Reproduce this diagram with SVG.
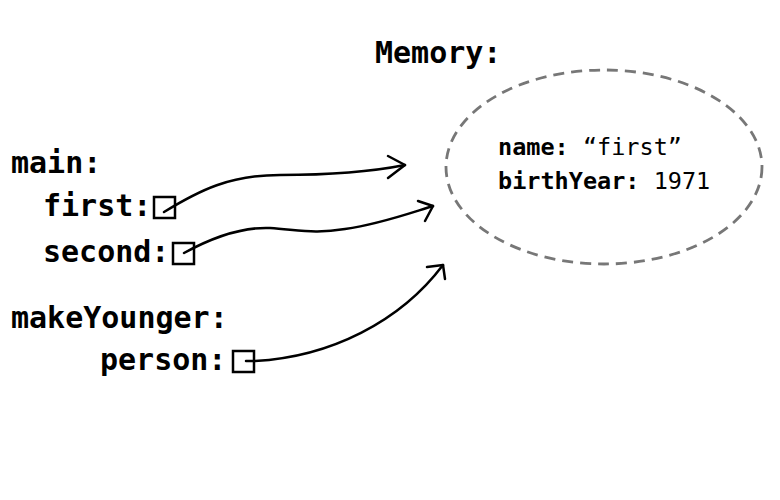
<svg xmlns="http://www.w3.org/2000/svg" width="780" height="500" viewBox="0 0 780 500">
<style>
.lbl{font-family:"DejaVu Sans Mono",monospace;font-weight:bold;font-size:30px;fill:#000}
.in{font-family:"DejaVu Sans Mono",monospace;font-size:23.5px;fill:#000}
.b{font-weight:bold}
.box{fill:#fff;stroke:#000;stroke-width:2.5}
.conn path{fill:none;stroke:#000;stroke-width:2.5;stroke-linecap:round;stroke-linejoin:round}
</style>
<rect width="780" height="500" fill="#fff"/>
<g id="memory">
<text class="lbl" x="375" y="63">Memory:</text>
<ellipse cx="604" cy="167" rx="158" ry="97" fill="none" stroke="#777" stroke-width="2.8" stroke-dasharray="11,7"/>
<text class="in" x="498" y="155"><tspan class="b">name:</tspan> “first”</text>
<text class="in" x="498" y="189"><tspan class="b">birthYear:</tspan> 1971</text>
</g>
<g id="main">
<text class="lbl" x="11" y="173">main:</text>
</g>
<g id="first">
<text class="lbl" x="43" y="216">first:</text>
<rect class="box" x="154" y="197" width="21" height="21"/>
</g>
<g id="second">
<text class="lbl" x="43" y="262">second:</text>
<rect class="box" x="173" y="243" width="21" height="21"/>
</g>
<g id="makeYounger">
<text class="lbl" x="11" y="328">makeYounger:</text>
</g>
<g id="person">
<text class="lbl" x="100" y="370">person:</text>
<rect class="box" x="233" y="351" width="21" height="21"/>
</g>
<g class="conn" id="connectors">
<path d="M164,212 C200,190 230,175 280,175 C330,175 370,172 405,165"/>
<path d="M388,156 L405,165 L388,178"/>
<path d="M184,253 C215,236 245,227 270,228 C300,230 315,234 345,229 C380,224 410,213 433,206"/>
<path d="M418,201 L433,206 L425,221"/>
<path d="M246,361 L255,361 C330,357 400,322 443,265"/>
<path d="M427,267 L443,265 L445,279"/>
</g>
</svg>
